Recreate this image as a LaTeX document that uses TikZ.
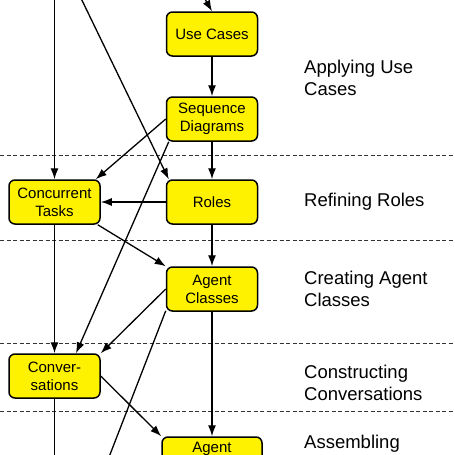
\documentclass[tikz,border=0pt]{standalone}
\usepackage{fontspec}
\setmainfont{Liberation Sans}
\usetikzlibrary{arrows.meta}
\begin{document}
\begin{tikzpicture}
[
 x=1pt, y=-1pt,
 BOX/.style={rectangle, rounded corners=6pt, draw=black, fill=yellow, line width=1.5pt,
   minimum width=91pt, minimum height=44pt, inner sep=0pt, align=center,
   font=\fontsize{15}{18}\selectfont},
 PHASE/.style={anchor=west, inner sep=0pt, align=left, font=\fontsize{18.5}{22.5}\selectfont},
 SEP/.style={draw=black!80, line width=1pt, dash pattern=on 4pt off 2.5pt},
 FLOW/.style={line width=1.3pt, -{Latex[length=11pt,width=8pt]}},
 LINE/.style={line width=1.3pt},
]
\useasboundingbox (0,0) rectangle (455,455);
\clip (0,0) rectangle (455,455);
%
\draw[SEP] (0,155) -- (455,155);
\draw[SEP] (0,240) -- (455,240);
\draw[SEP] (0,343) -- (455,343);
\draw[SEP] (0,411) -- (455,411);
%
\node [BOX] (UC) at (212,34)   {Use Cases};
\node [BOX] (SD) at (212,119)  {Sequence\\Diagrams};
\node [BOX] (RL) at (212,202)  {Roles};
\node [BOX] (CT) at (54.5,202) {Concurrent\\Tasks};
\node [BOX] (AC) at (212,289)  {Agent\\Classes};
\node [BOX] (CV) at (54.5,376) {Conver-\\sations};
\node [BOX, minimum width=100pt] (AA) at (212,459) {Agent\\\strut};
%
\node [PHASE] (P1) at (304,78)  {Applying Use\\Cases};
\node [PHASE] (P2) at (304,202) {Refining Roles};
\node [PHASE] (P3) at (304,289) {Creating Agent\\Classes};
\node [PHASE] (P4) at (304,383) {Constructing\\Conversations};
\node [PHASE] (P5) at (304,456) {Assembling\\\strut};
%
\coordinate (IN1)  at (194,-20);
\coordinate (IN2)  at (54.5,-10);
\coordinate (IN3)  at (77,-10);
\coordinate (OUT1) at (104,470);
\coordinate (OUT2) at (54.5,470);
%
\draw [FLOW]  (IN1) -- (UC.north);
\draw [FLOW]  (IN2) -- (CT.north);
\draw [FLOW]  (IN3) -- ([xshift=3pt]RL.north west);
%
\draw [FLOW]  (UC.south) -- (SD.north);
\draw [FLOW]  (SD.west) -- ([xshift=-5pt]CT.north east);
\draw [FLOW]  (SD.south) -- (RL.north);
\draw [FLOW]  ([xshift=3pt]SD.south west) -- ([xshift=21.5pt]CV.north);
%
\draw [FLOW]  (RL.west) -- (CT.east);
\draw [FLOW]  (RL.south) -- (AC.north);
\draw [FLOW]  ([xshift=-3pt]CT.south east) -- (AC.north west);
\draw [FLOW]  (CT.south) -- (CV.north);
%
\draw [FLOW]  (AC.west) -- (CV.north east);
\draw [LINE]  ([yshift=1pt]AC.south west) -- (OUT1);
\draw [FLOW]  (AC.south) -- (AA.north);
%
\draw [FLOW]  (CV.east) -- (AA.north west);
\draw [LINE]  (CV.south) -- (OUT2);
%
\end{tikzpicture}
\end{document}
